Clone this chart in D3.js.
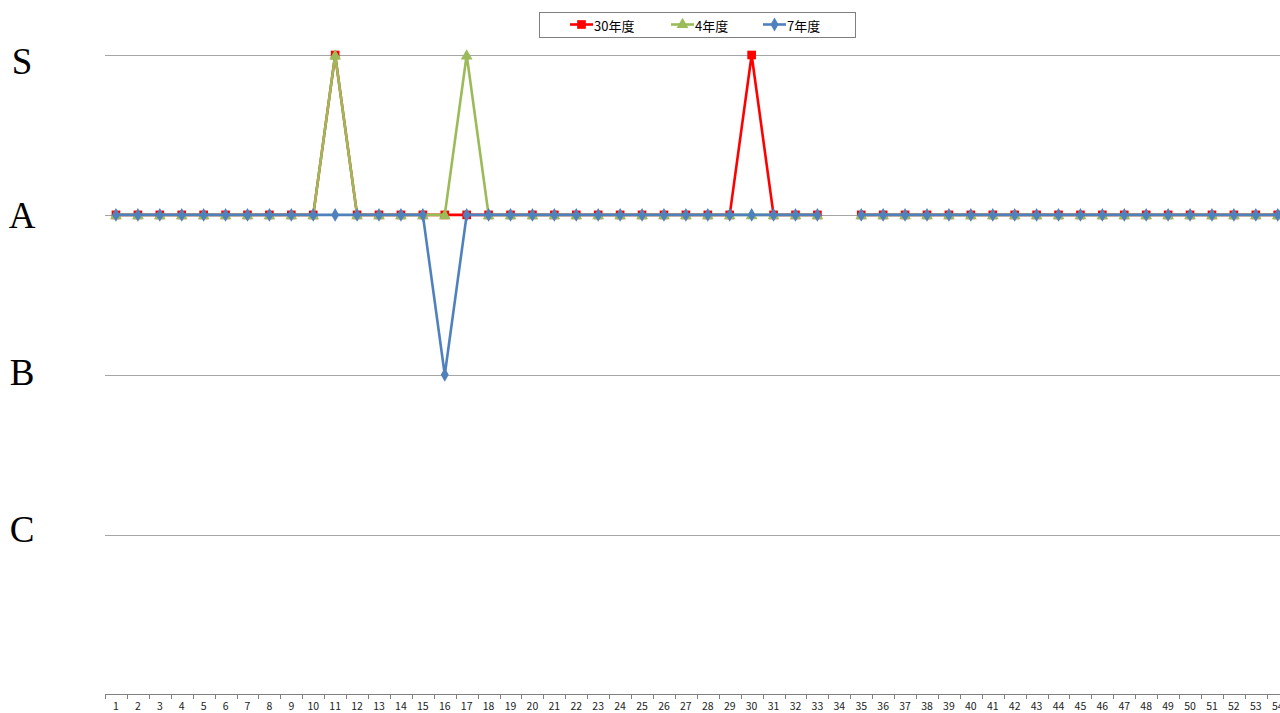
<!DOCTYPE html>
<html><head><meta charset="utf-8">
<script src="https://cdn.jsdelivr.net/npm/d3@7"></script>
<style>html,body{margin:0;padding:0;background:#fff;overflow:hidden}</style>
</head><body>
<svg id="c" width="1280" height="713"></svg>
<script>
const categories = d3.range(1, 56).map(String);
const levelLabels = ["C", "B", "A", "S"];
const levelValues = [1, 2, 3, 4];
const seriesNames = ["30年度", "4年度", "7年度"];
const s30 = [3,3,3,3,3,3,3,3,3,3,4,3,3,3,3,3,3,3,3,3,3,3,3,3,3,3,3,3,3,4,3,3,3,null,3,3,3,3,3,3,3,3,3,3,3,3,3,3,3,3,3,3,3,3,3];
const s4  = [3,3,3,3,3,3,3,3,3,3,4,3,3,3,3,3,4,3,3,3,3,3,3,3,3,3,3,3,3,3,3,3,3,null,3,3,3,3,3,3,3,3,3,3,3,3,3,3,3,3,3,3,3,3,3];
const s7  = [3,3,3,3,3,3,3,3,3,3,3,3,3,3,3,2,3,3,3,3,3,3,3,3,3,3,3,3,3,3,3,3,3,null,3,3,3,3,3,3,3,3,3,3,3,3,3,3,3,3,3,3,3,3,3];

const svg = d3.select("#c");
const step = 21.92;
const x0 = 105;
const x = d3.scaleBand().domain(categories).range([x0, x0 + step * categories.length]).padding(0);
const y = d3.scaleLinear().domain([0, 4]).range([694.5, 55]);

// gridlines
svg.append("g").selectAll("line").data(levelValues).join("line")
  .attr("x1", x0).attr("x2", 1280)
  .attr("y1", d => Math.round(y(d)) + 0.5).attr("y2", d => Math.round(y(d)) + 0.5)
  .attr("stroke", "#a6a6a6").attr("stroke-width", 1);

// y labels (slight per-level offsets as in the reference)
const labelShift = { 1: -5, 2: -2, 3: 1, 4: 6 };
svg.append("g").selectAll("text").data(levelValues).join("text")
  .attr("x", 22).attr("y", d => y(d) + labelShift[d])
  .attr("text-anchor", "middle").attr("dominant-baseline", "central")
  .attr("font-family", "'Liberation Serif','DejaVu Serif',serif")
  .attr("font-size", 37).attr("fill", "#000")
  .text((d, i) => levelLabels[i]);

// x axis
const ax = svg.append("g");
ax.append("line").attr("x1", x0).attr("x2", 1280).attr("y1", 694.5).attr("y2", 694.5).attr("stroke", "#808080");
ax.selectAll("line.t").data(categories.concat(["end"])).join("line").attr("class", "t")
  .attr("x1", (d, i) => Math.round(x0 + i * x.step()) + 0.5)
  .attr("x2", (d, i) => Math.round(x0 + i * x.step()) + 0.5)
  .attr("y1", 694.5).attr("y2", 699).attr("stroke", "#808080");
ax.selectAll("text").data(categories).join("text")
  .attr("x", d => x(d) + x.bandwidth() / 2).attr("y", 710)
  .attr("text-anchor", "middle")
  .attr("font-family", "'Noto Sans CJK JP','Noto Sans',sans-serif")
  .attr("font-size", 10.5).attr("fill", "#222")
  .text(d => d);

const colors = ["#ff0000", "#9bbb59", "#4f81bd"];
const data = [s30, s4, s7];
const line = d3.line().defined(d => d.v !== null).x(d => x(d.c) + x.bandwidth() / 2).y(d => y(d.v));

const sym = [d3.symbolSquare, d3.symbolTriangle, d3.symbolDiamond];
const symSize = [75, 60, 55];

data.forEach((vals, si) => {
  const pts = categories.map((c, i) => ({ c, v: vals[i] }));
  const g = svg.append("g");
  g.append("path").datum(pts).attr("d", line).attr("fill", "none")
    .attr("stroke", colors[si]).attr("stroke-width", 2.6).attr("stroke-linejoin", "round");
  g.selectAll("path.m").data(pts.filter(p => p.v !== null)).join("path").attr("class", "m")
    .attr("d", d3.symbol().type(sym[si]).size(symSize[si]))
    .attr("transform", d => `translate(${x(d.c) + x.bandwidth() / 2},${y(d.v) + (si === 1 ? 1 : 0)})`)
    .attr("fill", colors[si]);
});

// legend
const lg = svg.append("g");
lg.append("rect").attr("x", 539.5).attr("y", 12.5).attr("width", 316).attr("height", 25)
  .attr("fill", "#fff").attr("stroke", "#808080");
const lx = [570, 671, 763];
seriesNames.forEach((n, i) => {
  lg.append("line").attr("x1", lx[i]).attr("x2", lx[i] + 23).attr("y1", 24.5).attr("y2", 24.5)
    .attr("stroke", colors[i]).attr("stroke-width", 2.6);
  lg.append("path").attr("d", d3.symbol().type(sym[i]).size(symSize[i])())
    .attr("transform", `translate(${lx[i] + 11.5},24.5)`).attr("fill", colors[i]);
  lg.append("text").attr("x", lx[i] + 24).attr("y", 25).attr("dominant-baseline", "central")
    .attr("font-family", "'Noto Sans CJK JP','Noto Sans',sans-serif").attr("font-size", 13)
    .attr("fill", "#000").text(n);
});
</script>
</body></html>
